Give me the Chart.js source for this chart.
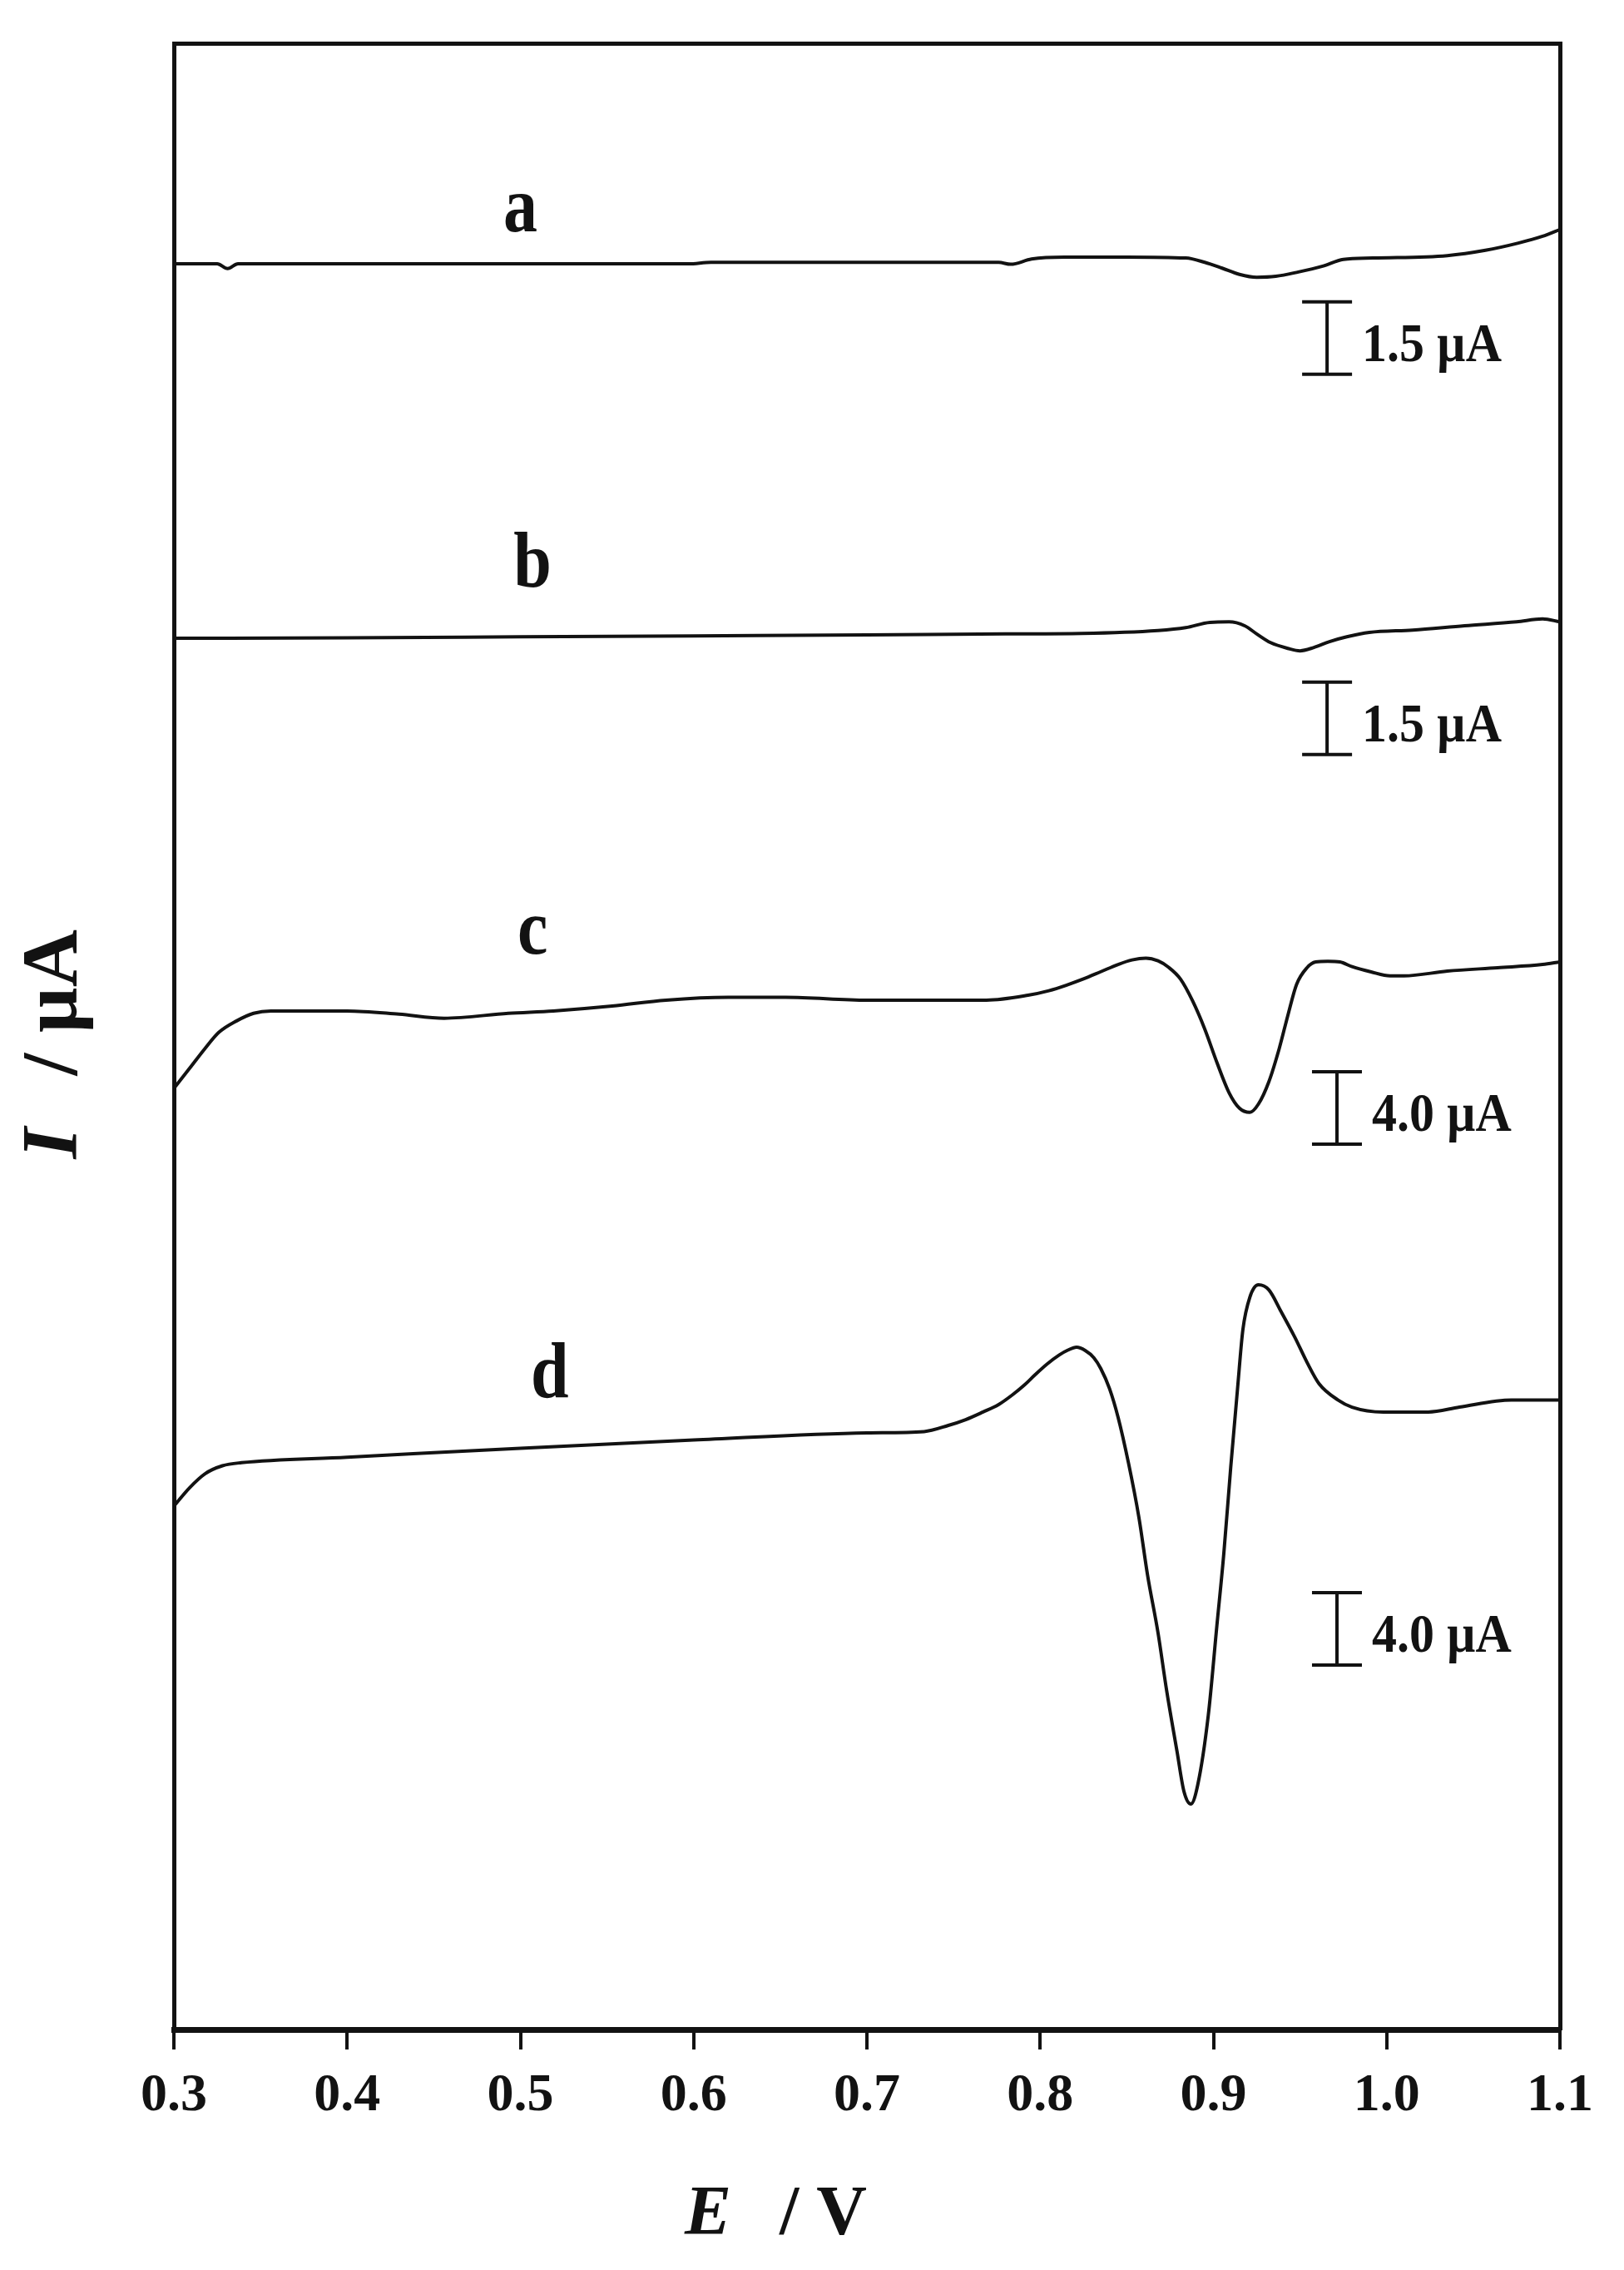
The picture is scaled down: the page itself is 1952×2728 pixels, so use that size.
<!DOCTYPE html>
<html>
<head>
<meta charset="utf-8">
<script src="https://cdn.jsdelivr.net/npm/chart.js@4.4.1/dist/chart.umd.min.js"></script>
<style>
html,body{margin:0;padding:0;background:#ffffff;}
#wrap{width:1952px;height:2728px;position:relative;}
</style>
</head>
<body>
<div id="wrap"><canvas id="chart" width="1952" height="2728"></canvas></div>
<script>
// ---------------- data ----------------
const xTicks = [0.3, 0.4, 0.5, 0.6, 0.7, 0.8, 0.9, 1.0, 1.1];
const curveNames = ['a', 'b', 'c', 'd'];

// curve a : E (V) and I (µA, relative)
const aE = [0.300,0.325,0.331,0.337,0.400,0.500,0.597,0.610,0.700,0.776,0.783,0.795,0.814,0.850,0.884,0.895,0.905,0.915,0.925,0.936,0.949,0.963,0.975,0.992,1.035,1.057,1.076,1.090,1.100];
const aI = [0.00,0.00,-0.10,0.00,0.00,0.00,0.00,0.03,0.03,0.03,-0.01,0.10,0.14,0.14,0.12,0.03,-0.09,-0.22,-0.28,-0.26,-0.17,-0.05,0.09,0.12,0.17,0.28,0.43,0.57,0.71];

// curve b
const bE = [0.300,0.400,0.500,0.600,0.700,0.780,0.824,0.868,0.884,0.898,0.909,0.918,0.925,0.933,0.943,0.950,0.958,0.967,0.977,0.990,1.015,1.045,1.075,1.090,1.100];
const bI = [0.00,0.01,0.03,0.05,0.07,0.09,0.10,0.16,0.22,0.33,0.34,0.26,0.09,-0.09,-0.21,-0.26,-0.19,-0.07,0.03,0.12,0.17,0.26,0.34,0.40,0.34];

// curve c
const cE = [0.300,0.309,0.318,0.326,0.336,0.346,0.356,0.400,0.430,0.456,0.493,0.519,0.553,0.584,0.620,0.653,0.700,0.769,0.793,0.805,0.815,0.825,0.835,0.845,0.853,0.861,0.868,0.874,0.881,0.888,0.895,0.902,0.909,0.915,0.921,0.926,0.932,0.938,0.943,0.948,0.954,0.959,0.966,0.973,0.980,0.991,1.002,1.010,1.035,1.064,1.090,1.100];
const cI = [0.00,1.10,2.21,3.10,3.72,4.15,4.28,4.28,4.10,3.88,4.15,4.28,4.55,4.88,5.04,5.04,4.88,4.88,5.15,5.40,5.70,6.05,6.45,6.85,7.10,7.20,7.05,6.70,6.04,4.83,3.28,1.44,-0.23,-1.09,-1.32,-0.86,0.37,2.21,4.05,5.75,6.67,6.99,7.03,6.99,6.73,6.44,6.22,6.22,6.48,6.67,6.85,6.99];

// curve d
const dE = [0.300,0.309,0.318,0.328,0.339,0.400,0.500,0.600,0.700,0.733,0.747,0.757,0.767,0.776,0.784,0.791,0.797,0.804,0.811,0.816,0.821,0.826,0.831,0.835,0.840,0.845,0.851,0.857,0.862,0.868,0.873,0.879,0.883,0.887,0.891,0.897,0.902,0.906,0.910,0.914,0.917,0.921,0.926,0.932,0.939,0.947,0.954,0.961,0.972,0.980,0.998,1.024,1.042,1.072,1.100];
const dI = [0.00,1.01,1.79,2.23,2.40,2.70,3.20,3.65,4.05,4.12,4.46,4.78,5.20,5.61,6.15,6.70,7.25,7.85,8.35,8.62,8.78,8.60,8.20,7.60,6.50,4.90,2.37,-0.63,-3.82,-6.99,-10.19,-13.56,-15.77,-16.46,-15.38,-11.59,-6.60,-2.62,2.16,6.58,9.75,11.54,12.23,11.95,10.76,9.33,7.95,6.76,5.86,5.47,5.20,5.20,5.47,5.86,5.86];

// scale bars (µA) and annotation anchors (data coordinates)
const scaleBarUA = [1.5, 1.5, 4.0, 4.0];
const barE = [0.9656, 0.9656, 0.9713, 0.9713];
const barTopI = [-0.79, -0.91, 0.92, -4.78];
const labelE = [0.500, 0.507, 0.507, 0.517];
const labelI = [0.67, 1.07, 7.45, 6.02];

// visible window of each (offset) trace, in µA
const yWindows = {
  a: [-36.59, 4.57],
  b: [-28.83, 12.33],
  c: [-52.00, 57.75],
  d: [-28.92, 80.83]
};

// ---------------- chart ----------------
const INK = '#121212';
const SERIF = '"Liberation Serif", "Times New Roman", serif';
const seriesE = {a: aE, b: bE, c: cE, d: dE};
const seriesI = {a: aI, b: bI, c: cI, d: dI};

const datasets = curveNames.map(n => ({
  label: n,
  data: seriesE[n].map((e, i) => ({x: e, y: seriesI[n][i]})),
  xAxisID: 'x',
  yAxisID: 'y' + n,
  borderColor: INK,
  borderWidth: 4,
  pointRadius: 0,
  fill: false,
  cubicInterpolationMode: 'monotone'
}));

const hiddenY = {};
curveNames.forEach(n => {
  hiddenY['y' + n] = {type: 'linear', axis: 'y', display: false, min: yWindows[n][0], max: yWindows[n][1]};
});

const annotations = {
  id: 'annotations',
  afterDraw(chart) {
    const ctx = chart.ctx;
    const xs = chart.scales.x;
    const area = chart.chartArea;
    ctx.save();
    ctx.fillStyle = INK;
    ctx.strokeStyle = INK;
    curveNames.forEach((n, i) => {
      const ys = chart.scales['y' + n];
      // curve label
      const lx = xs.getPixelForValue(labelE[i]);
      const ly = ys.getPixelForValue(labelI[i]);
      ctx.save();
      ctx.translate(lx, ly);
      ctx.scale(1, 1.15);
      ctx.font = 'bold 82px ' + SERIF;
      ctx.textAlign = 'center';
      ctx.textBaseline = 'alphabetic';
      ctx.fillText(n, 0, 0);
      ctx.restore();
      // scale bar
      const bx = xs.getPixelForValue(barE[i]);
      const y1 = ys.getPixelForValue(barTopI[i]);
      const y2 = ys.getPixelForValue(barTopI[i] - scaleBarUA[i]);
      ctx.lineWidth = 4;
      ctx.beginPath();
      ctx.moveTo(bx, y1); ctx.lineTo(bx, y2);
      ctx.moveTo(bx - 30, y1); ctx.lineTo(bx + 30, y1);
      ctx.moveTo(bx - 30, y2); ctx.lineTo(bx + 30, y2);
      ctx.stroke();
      ctx.save();
      ctx.translate(bx + 42, y2 - 16);
      ctx.scale(1, 1.08);
      ctx.font = 'bold 60px ' + SERIF;
      ctx.textAlign = 'left';
      ctx.textBaseline = 'alphabetic';
      ctx.fillText(scaleBarUA[i].toFixed(1) + ' µA', 0, 0);
      ctx.restore();
    });

    // x-axis title: E / V
    const tx = area.left + 614;
    const ty = area.bottom + 246;
    ctx.textAlign = 'left';
    ctx.textBaseline = 'alphabetic';
    ctx.font = 'italic bold 84px ' + SERIF;
    ctx.fillText('E', tx, ty);
    ctx.font = 'bold 84px ' + SERIF;
    ctx.fillText('/ V', tx + 114, ty);

    // y-axis title: I / µA (rotated)
    ctx.save();
    ctx.translate(92, (area.top + area.bottom) / 2 + 12);
    ctx.rotate(-Math.PI / 2);
    ctx.font = 'italic bold 96px ' + SERIF;
    ctx.fillText('I', -135, 0);
    ctx.font = 'bold 96px ' + SERIF;
    ctx.fillText('/', -35, 0);
    ctx.fillText('µA', 16, 0);
    ctx.restore();

    ctx.restore();
  }
};

new Chart(document.getElementById('chart'), {
  type: 'line',
  data: {datasets},
  options: {
    responsive: false,
    animation: false,
    devicePixelRatio: 1,
    events: [],
    layout: {padding: {left: 209, right: 77, top: 52, bottom: 0}},
    plugins: {legend: {display: false}, tooltip: {enabled: false}},
    scales: Object.assign({
      x: {
        type: 'linear', axis: 'x', position: 'bottom',
        min: 0.3, max: 1.1,
        afterBuildTicks: s => { s.ticks = xTicks.map(v => ({value: v})); },
        afterFit: s => { s.height = 289; },
        border: {display: true, width: 7, color: INK},
        grid: {display: true, drawOnChartArea: false, drawTicks: true, tickLength: 24, lineWidth: 4, color: INK},
        ticks: {
          color: INK, padding: 18, maxRotation: 0, autoSkip: false,
          font: {family: SERIF, weight: 'bold', size: 64},
          callback: v => Number(v).toFixed(1)
        }
      },
      xTop: {
        type: 'linear', axis: 'x', position: 'top', min: 0.3, max: 1.1,
        afterFit: s => { s.height = 0; },
        border: {display: true, width: 5, color: INK},
        grid: {display: false, drawTicks: false},
        ticks: {display: false}
      },
      yLeft: {
        type: 'linear', axis: 'y', position: 'left', min: 0, max: 1,
        afterFit: s => { s.width = 0; },
        border: {display: true, width: 5, color: INK},
        grid: {display: false, drawTicks: false},
        ticks: {display: false}
      },
      yRight: {
        type: 'linear', axis: 'y', position: 'right', min: 0, max: 1,
        afterFit: s => { s.width = 0; },
        border: {display: true, width: 5, color: INK},
        grid: {display: false, drawTicks: false},
        ticks: {display: false}
      }
    }, hiddenY)
  },
  plugins: [annotations]
});
</script>
</body>
</html>
